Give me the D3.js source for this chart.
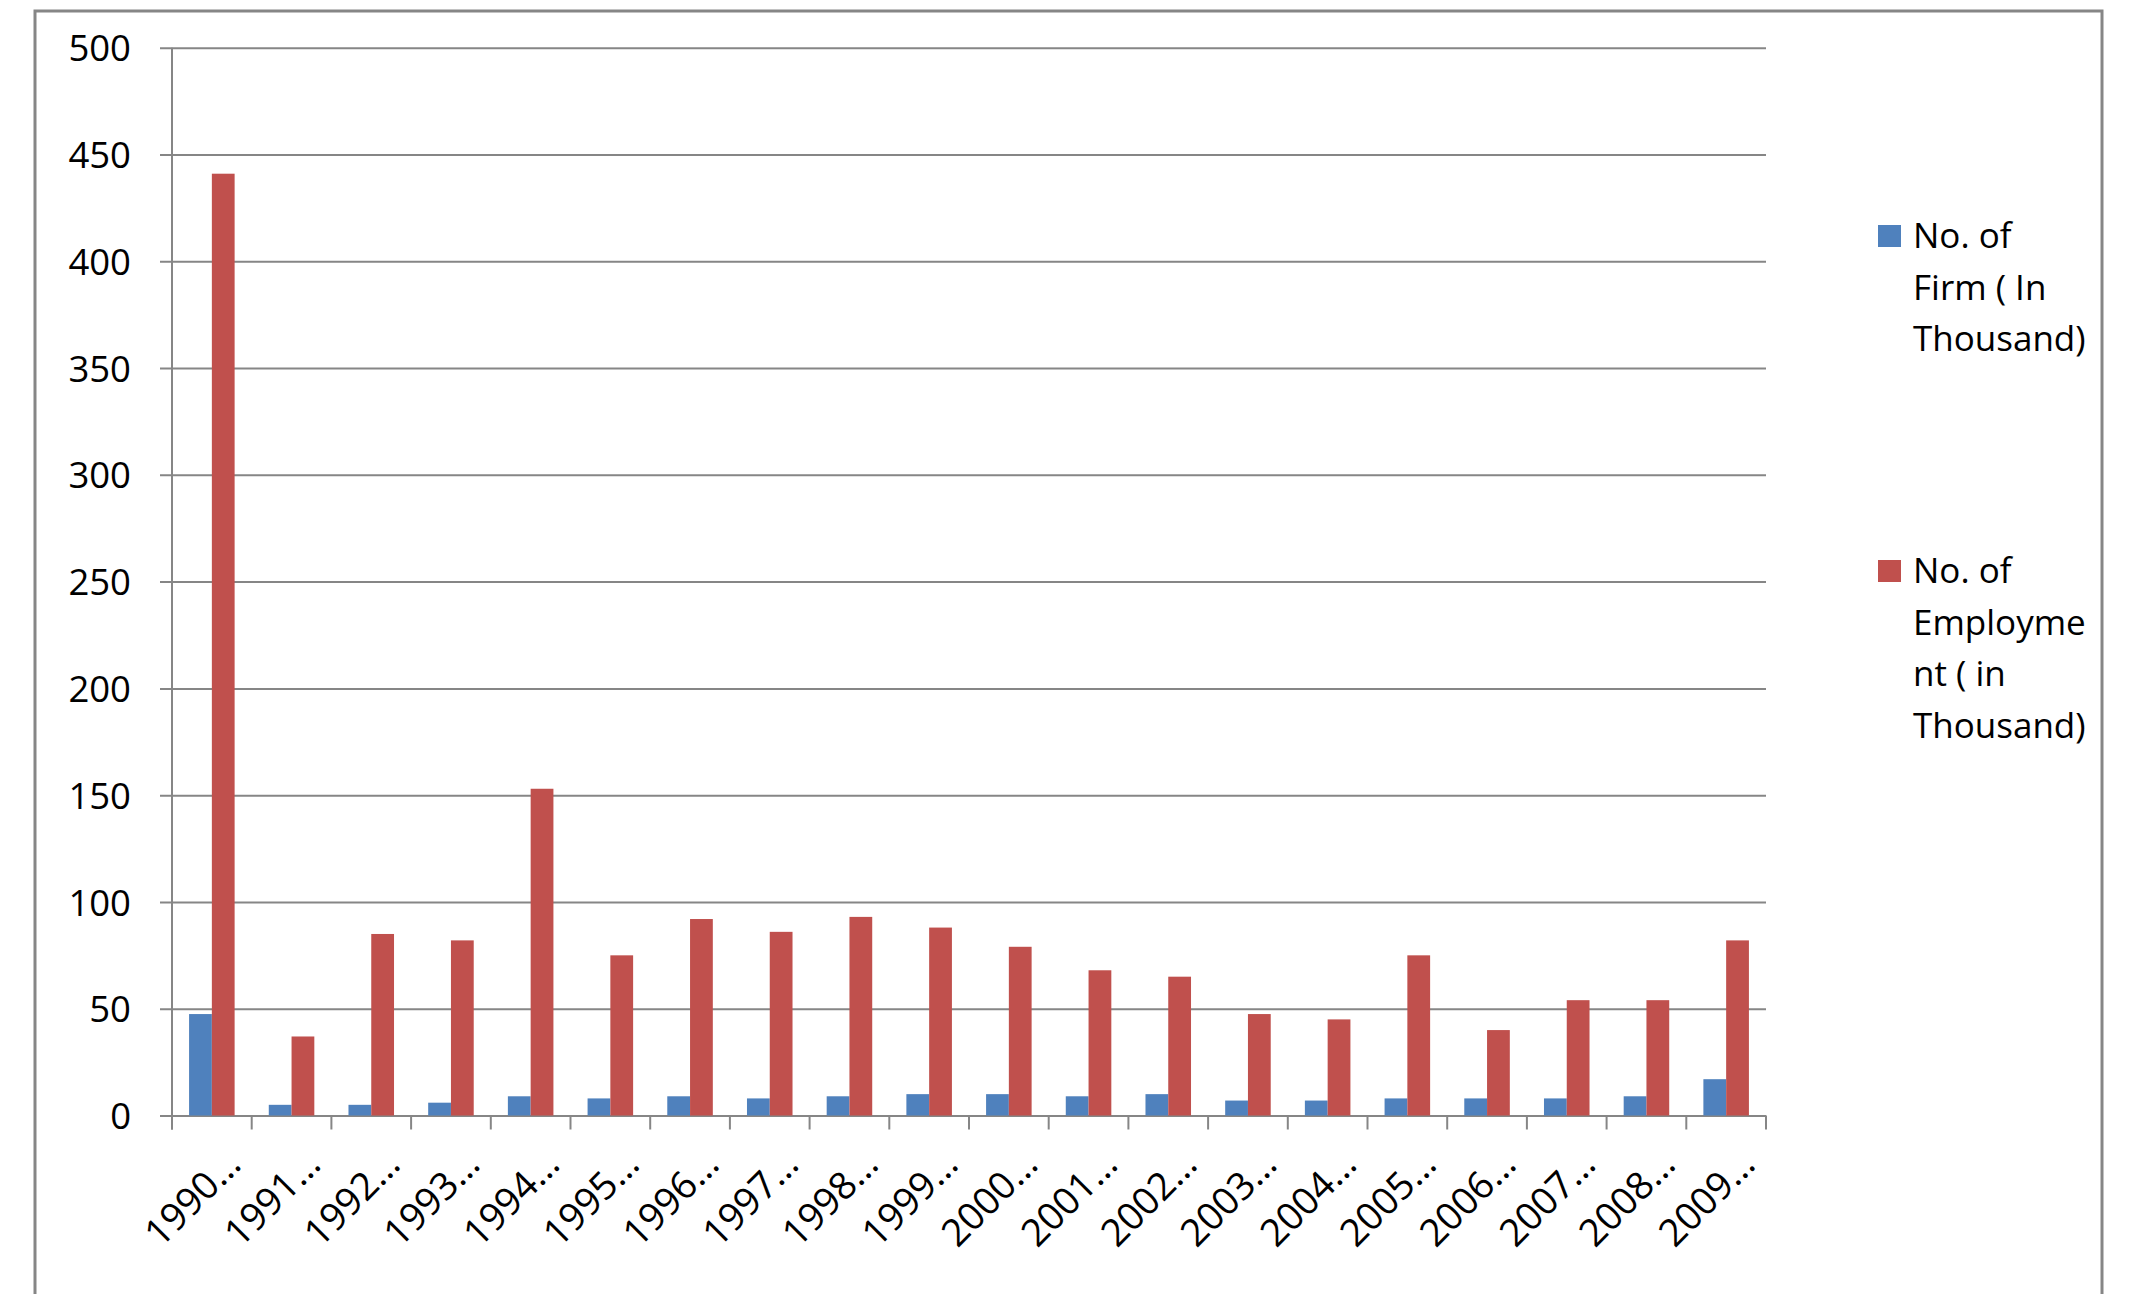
<!DOCTYPE html>
<html>
<head>
<meta charset="utf-8">
<script src="https://cdn.jsdelivr.net/npm/d3@7.9.0/dist/d3.min.js"></script>
<style>
  html, body { margin: 0; padding: 0; background: #fff; }
  svg { display: block; font-family: 'Open Sans', sans-serif; }
</style>
</head>
<body>
<svg id="chart" width="2131" height="1294"></svg>
<script>
const years = ['1990…', '1991…', '1992…', '1993…', '1994…', '1995…', '1996…', '1997…', '1998…', '1999…',
  '2000…', '2001…', '2002…', '2003…', '2004…', '2005…', '2006…', '2007…', '2008…', '2009…'];
const firms = [47.5, 5, 5, 6, 9, 8, 9, 8, 9, 10, 10, 9, 10, 7, 7, 8, 8, 8, 9, 17];
const employment = [441, 37, 85, 82, 153, 75, 92, 86, 93, 88, 79, 68, 65, 47.5, 45, 75, 40, 54, 54, 82];
const yTicks = [0, 50, 100, 150, 200, 250, 300, 350, 400, 450, 500];
const seriesNames = [
  ['No. of', 'Firm ( In', 'Thousand)'],
  ['No. of', 'Employme', 'nt ( in', 'Thousand)'],
];
const colors = ['#4f81bd', '#c0504d'];
const gridColor = '#868686';

const svg = d3.select('#chart');

// outer chart border (bottom edge runs off the picture)
svg.append('rect')
  .attr('x', 35).attr('y', 11)
  .attr('width', 2067).attr('height', 1320)
  .attr('fill', 'none').attr('stroke', gridColor).attr('stroke-width', 3);

const plotLeft = 172, plotRight = 1766, plotTop = 47.7, plotBottom = 1115.5;

const y = d3.scaleLinear().domain([0, 500]).range([plotBottom, plotTop]);
const x = d3.scaleBand().domain(years).range([plotLeft, plotRight])
  .paddingInner(1.5 / 3.5).paddingOuter(0.75 / 3.5);
const sub = d3.scaleBand().domain([0, 1]).range([0, x.bandwidth()]);

// gridlines + y labels
const yAxis = d3.axisLeft(y).tickValues(yTicks).tickSize(0).tickPadding(0);
const gy = svg.append('g').attr('transform', `translate(${plotLeft},0)`).call(yAxis);
gy.select('.domain').remove();
gy.selectAll('.tick line')
  .attr('x1', -12).attr('x2', plotRight - plotLeft)
  .attr('stroke', gridColor).attr('stroke-width', 2);
gy.selectAll('.tick text')
  .attr('x', -41).attr('dy', '0.36em')
  .attr('font-size', 36.5).attr('fill', '#000')
  .attr('font-family', "'Open Sans', sans-serif");

// vertical axis line
svg.append('line')
  .attr('x1', plotLeft).attr('x2', plotLeft).attr('y1', plotTop).attr('y2', plotBottom + 14)
  .attr('stroke', gridColor).attr('stroke-width', 2);

// category boundary ticks below the axis
const bounds = years.map((d) => x(d) - x.step() * x.paddingOuter()).concat([plotRight]);
svg.append('g').selectAll('line').data(bounds).join('line')
  .attr('x1', (d) => d).attr('x2', (d) => d)
  .attr('y1', plotBottom).attr('y2', plotBottom + 14)
  .attr('stroke', gridColor).attr('stroke-width', 2);

// bars
const series = [firms, employment];
series.forEach((vals, si) => {
  svg.append('g').selectAll('rect').data(vals).join('rect')
    .attr('x', (d, i) => x(years[i]) + sub(si))
    .attr('width', sub.bandwidth())
    .attr('y', (d) => y(d))
    .attr('height', (d) => y(0) - y(d))
    .attr('fill', colors[si]);
});

// x labels
svg.append('g').selectAll('text').data(years).join('text')
  .attr('transform', (d) => `translate(${x(d) + x.bandwidth() / 2 + 31},${plotBottom + 51}) rotate(-45)`)
  .attr('text-anchor', 'end')
  .attr('font-size', 38)
  .text((d) => d);

// legend
const legendBase = [248, 583];
seriesNames.forEach((lines, si) => {
  const g = svg.append('g');
  g.append('rect')
    .attr('x', 1878).attr('y', legendBase[si] - 23)
    .attr('width', 23).attr('height', 22)
    .attr('fill', colors[si]);
  const t = g.append('text').attr('font-size', 35);
  lines.forEach((line, li) => {
    t.append('tspan').attr('x', 1913).attr('y', legendBase[si] + li * 51.5).text(line);
  });
});
</script>
</body>
</html>
